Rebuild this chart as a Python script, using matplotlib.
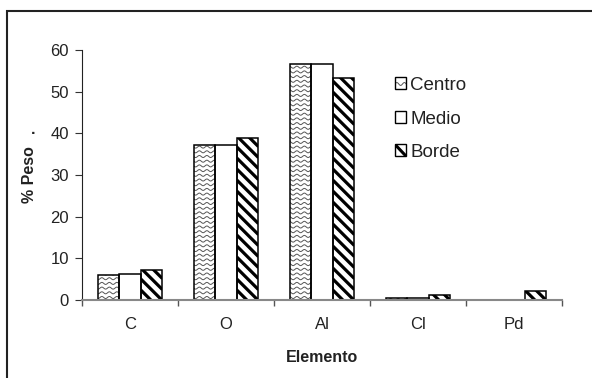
import numpy as np
import matplotlib.pyplot as plt
from matplotlib.patches import Rectangle
from matplotlib.legend_handler import HandlerBase

plt.rcParams['font.family'] = ['Liberation Sans', 'DejaVu Sans']

elements = ['C', 'O', 'Al', 'Cl', 'Pd']
series = ['Centro', 'Medio', 'Borde']
centro = [5.9, 37.3, 56.6, 0.4, 0.0]
medio = [6.3, 37.3, 56.6, 0.4, 0.0]
borde = [7.3, 38.8, 53.4, 1.2, 2.2]

W, H = 592, 378
fig = plt.figure(figsize=(W / 100, H / 100), dpi=100)
ax = fig.add_axes([82 / W, 1 - 300 / H, 480 / W, 250 / H])
ax.set_xlim(-0.5, 4.5)
ax.set_ylim(0, 60)

# pixels per data unit, used for the fill patterns
sx = 480 / 5
sy = 250 / 60

x = np.arange(len(elements))
bw = 0.225
offsets = [-bw, 0, bw]


def wave_fill(bar):
    x0, h = bar.get_x(), bar.get_height()
    x1 = x0 + bar.get_width()
    xs = np.linspace(x0, x1, 80)
    for yp in np.arange(2.5, h * sy + 3, 4.7):
        ys = (yp + 1.0 * np.sin(2 * np.pi * xs * sx / 7.5)) / sy
        ln, = ax.plot(xs, ys, color='#555555', lw=0.7, zorder=1.5)
        ln.set_clip_path(bar)


def stripe_fill(bar):
    x0, h = bar.get_x(), bar.get_height()
    x1 = x0 + bar.get_width()
    xs = np.array([x0, x1])
    for c in np.arange(x0 * sx - 12, x1 * sx + h * sy + 12, 11):
        ys = (c - xs * sx) / sy
        ln, = ax.plot(xs, ys, color='black', lw=2.3, zorder=1.5,
                      solid_capstyle='butt')
        ln.set_clip_path(bar)


for vals, off, kind in zip([centro, medio, borde], offsets, ['wave', 'none', 'stripe']):
    lws = [0 if v == 0 else 1.1 for v in vals]
    bars = ax.bar(x + off, vals, bw, color='white', edgecolor='none', zorder=1)
    for b in bars:
        if b.get_height() == 0:
            continue
        if kind == 'wave':
            wave_fill(b)
        elif kind == 'stripe':
            stripe_fill(b)
    ax.bar(x + off, vals, bw, fill=False, edgecolor='black', linewidth=lws, zorder=2)


class PatternHandler(HandlerBase):
    def __init__(self, kind):
        super().__init__()
        self.kind = kind

    def create_artists(self, legend, orig_handle, xdescent, ydescent,
                       width, height, fontsize, trans):
        x0, y0 = -xdescent, -ydescent
        rect = Rectangle((x0, y0), width, height, facecolor='white',
                         edgecolor='none', transform=trans)
        arts = [rect]
        if self.kind == 'wave':
            xs = np.linspace(x0, x0 + width, 30)
            ys = y0 + height * 0.45 + height * 0.12 * np.sin(2 * np.pi * (xs - x0) / width * 1.5)
            ln = plt.Line2D(xs, ys, color='#555555', lw=0.7, transform=trans)
            ln.set_clip_path(rect)
            arts.append(ln)
        elif self.kind == 'stripe':
            ln = plt.Line2D([x0, x0 + width], [y0 + height, y0], color='black',
                            lw=2.2, transform=trans)
            ln.set_clip_path(rect)
            arts.append(ln)
        arts.append(Rectangle((x0, y0), width, height, fill=False,
                              edgecolor='black', lw=1.0, transform=trans))
        return arts


handles = [Rectangle((0, 0), 1, 1) for _ in series]
hmap = {h: PatternHandler(k) for h, k in zip(handles, ['wave', 'none', 'stripe'])}
fig.legend(handles, series, handler_map=hmap, loc='upper left',
           bbox_to_anchor=(395 / W, 1 - 77 / H), frameon=False, fontsize=13.5,
           handlelength=0.6, handleheight=0.6, handletextpad=0.2,
           labelspacing=0.88, borderpad=0, borderaxespad=0, labelcolor='#222222')

ax.set_xticks(x)
ax.set_xticklabels(elements)
ax.set_xticks(np.arange(-0.5, 5, 1), minor=True)
ax.tick_params(axis='x', which='major', length=0, pad=12, labelsize=12, labelcolor='#222222')
ax.tick_params(axis='x', which='minor', length=4, width=1, color='#555555', direction='out')
ax.set_yticks(range(0, 61, 10))
ax.tick_params(axis='y', length=5, width=0.8, pad=4.5, labelsize=12,
               color='#333333', labelcolor='#222222')

for s in ['top', 'right']:
    ax.spines[s].set_visible(False)
ax.spines['left'].set_color('#222222')
ax.spines['left'].set_linewidth(0.8)
ax.spines['bottom'].set_color('#888888')
ax.spines['bottom'].set_linewidth(1.5)
ax.spines['bottom'].set_zorder(3)

fig.text(322 / W, 1 - 357 / H, 'Elemento', ha='center', va='center',
         fontweight='bold', fontsize=11.5, color='#222222')
fig.text(30 / W, 1 - 175 / H, '% Peso', ha='center', va='center', rotation=90,
         fontweight='bold', fontsize=11.5, color='#222222')
fig.text(34 / W, 1 - 133 / H, '\u00b7', ha='center', va='center',
         fontweight='bold', fontsize=11.5, color='#222222')

fig.add_artist(Rectangle((7 / W, -0.05), 1.1, 1 - 11 / H + 0.05,
                         transform=fig.transFigure, fill=False, lw=1.5,
                         edgecolor='#222222'))

fig.savefig('out.png', dpi=100)
